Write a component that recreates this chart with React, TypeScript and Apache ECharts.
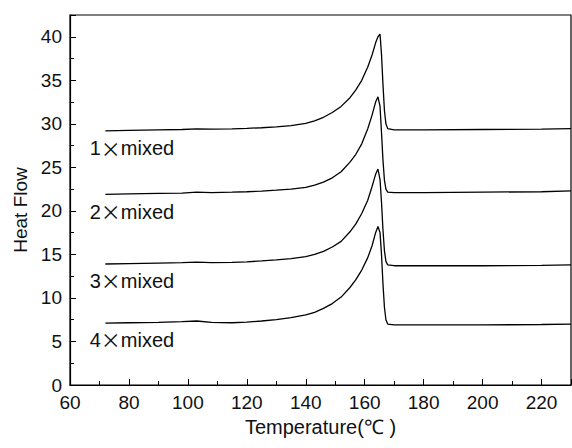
import React, { useEffect, useRef } from "react";
import * as echarts from "echarts";

const temps = [72, 80, 90, 98, 103, 108, 115, 120, 125, 130, 135, 140, 143, 146, 149, 152, 155, 157, 159, 161, 162.5, 163.7, 164.5, 165.2, 165.7, 166.2, 166.7, 167.2, 167.8, 170, 180, 200, 220, 230];

const mixed1 = [29.2, 29.25, 29.3, 29.35, 29.42, 29.38, 29.42, 29.48, 29.55, 29.65, 29.8, 30.05, 30.35, 30.75, 31.3, 32.0, 33.0, 33.9, 35.0, 36.5, 37.9, 39.3, 40.0, 40.3, 38.0, 34.5, 31.5, 30.0, 29.45, 29.3, 29.3, 29.35, 29.4, 29.45];
const mixed2 = [21.9, 21.95, 22.0, 22.05, 22.15, 22.1, 22.15, 22.2, 22.28, 22.38, 22.5, 22.7, 22.95, 23.3, 23.8, 24.5, 25.6, 26.5, 27.7, 29.4, 31.0, 32.5, 33.1, 32.0, 29.0, 25.8, 23.5, 22.5, 22.15, 22.1, 22.1, 22.15, 22.2, 22.3];
const mixed3 = [13.9, 13.95, 14.0, 14.05, 14.12, 14.05, 14.08, 14.15, 14.25, 14.38, 14.52, 14.75, 15.0, 15.35, 15.85, 16.5, 17.6, 18.5, 19.7, 21.2, 22.8, 24.2, 24.8, 23.6, 21.0, 17.8, 15.4, 14.2, 13.8, 13.7, 13.7, 13.7, 13.75, 13.8];
const mixed4 = [7.1, 7.15, 7.2, 7.28, 7.35, 7.2, 7.15, 7.22, 7.35, 7.5, 7.75, 8.05, 8.35, 8.8, 9.35, 10.1, 11.2, 12.1, 13.2, 14.6, 16.0, 17.5, 18.2, 17.5, 15.0, 11.6, 8.9, 7.5, 7.0, 6.9, 6.9, 6.9, 6.95, 7.0];

const seriesNames = ["1", "2", "3", "4"];
const seriesValues = [mixed1, mixed2, mixed3, mixed4];
// label anchor positions in data coords [temperature, heat flow]
const labelX = [81, 81, 81, 81];
const labelY = [27.2, 19.9, 11.95, 5.2];

export default function App() {
  const ref = useRef<HTMLDivElement>(null);
  useEffect(() => {
    if (!ref.current) return;
    const chart = echarts.init(ref.current, undefined, { renderer: "svg" });
    const font = "Liberation Sans, Arial, sans-serif";
    chart.setOption({
      animation: false,
      backgroundColor: "#fff",
      grid: { left: 70, right: 1, top: 15, bottom: 63, show: true, borderColor: "#000", borderWidth: 1.2 },
      xAxis: {
        type: "value",
        min: 60,
        max: 230,
        interval: 20,
        name: "Temperature(℃ )",
        nameLocation: "middle",
        nameGap: 27,
        nameTextStyle: { fontFamily: font, fontSize: 20, color: "#111" },
        axisLine: { lineStyle: { color: "#000", width: 1.2 } },
        axisTick: { inside: true, length: 6, lineStyle: { color: "#000" } },
        minorTick: { show: true, splitNumber: 2, length: 4, lineStyle: { color: "#000" } },
        splitLine: { show: false },
        axisLabel: { fontFamily: font, fontSize: 19, color: "#111", margin: 8, showMaxLabel: false },
      },
      yAxis: {
        type: "value",
        min: 0,
        max: 42.5,
        interval: 5,
        name: "Heat Flow",
        nameLocation: "middle",
        nameGap: 40,
        nameTextStyle: { fontFamily: font, fontSize: 19, color: "#111", padding: [0, 20, 0, 0] },
        axisLine: { show: true, lineStyle: { color: "#000", width: 1.2 } },
        axisTick: { show: true, inside: true, length: 6, lineStyle: { color: "#000" } },
        minorTick: { show: true, splitNumber: 2, length: 4, lineStyle: { color: "#000" } },
        splitLine: { show: false },
        axisLabel: { fontFamily: font, fontSize: 19, color: "#111", margin: 8, showMaxLabel: false },
      },
      series: seriesValues.map((vals, i) => ({
        type: "line",
        name: seriesNames[i] + "×mixed",
        data: temps.map((t, j) => [t, vals[j]]),
        showSymbol: false,
        symbol: "none",
        lineStyle: { color: "#000", width: 1.3 },
        markPoint: {
          symbol: "circle",
          symbolSize: 0,
          data: [{ coord: [labelX[i], labelY[i]] }],
          label: {
            show: true,
            position: "inside",
            formatter: "{a|" + seriesNames[i] + "}{b|×}{a|mixed}",
            rich: {
              a: { fontFamily: font, fontSize: 20, color: "#111" },
              b: { fontFamily: "Noto Sans CJK SC", fontSize: 20, color: "#111" },
            },
          },
        },
      })),
    });
    return () => chart.dispose();
  }, []);
  return <div ref={ref} style={{ position: "fixed", left: 0, top: 0, width: 572, height: 448 }} />;
}
